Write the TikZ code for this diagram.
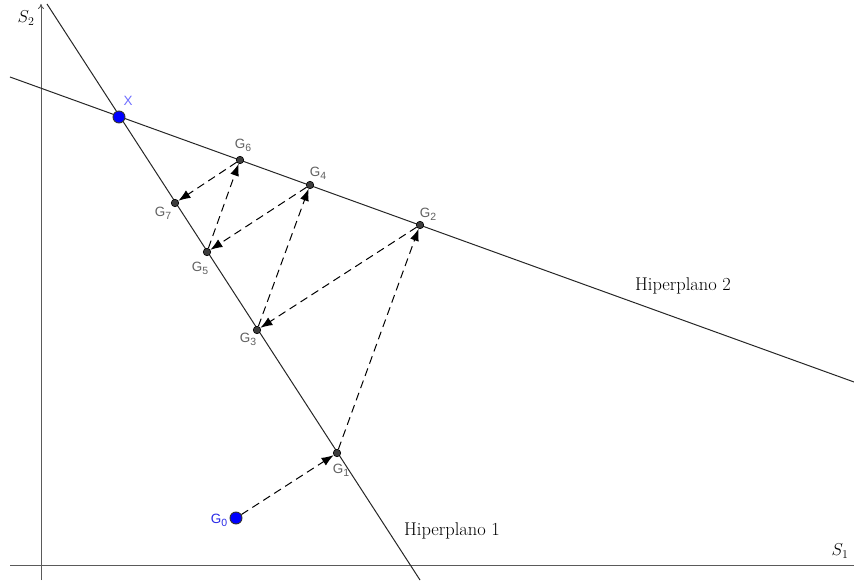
\documentclass[tikz,border=0pt]{standalone}
\usepackage{fontspec}
\newfontfamily\lblfont{Liberation Sans}
\usetikzlibrary{arrows.meta}
\definecolor{lblgray}{RGB}{96,96,96}
\definecolor{axgray}{RGB}{90,90,90}
\definecolor{ptfill}{RGB}{60,60,60}
\definecolor{xblue}{RGB}{110,110,255}
\definecolor{gblue}{RGB}{40,40,230}
\newcommand{\gsub}[1]{G\raisebox{-0.45ex}{\fontsize{10.5}{10.5}\selectfont #1}}
\begin{document}
\begin{tikzpicture}[x=1bp,y=-1bp,
  pt/.style={circle,draw=black,fill=ptfill,inner sep=0pt,minimum size=7.5bp,line width=0.6bp},
  bpt/.style={circle,draw=black!80,fill=blue,inner sep=0pt,minimum size=12bp,line width=0.9bp},
  lbl/.style={font=\lblfont\fontsize{13.5}{13.5}\selectfont,text=lblgray,inner sep=1bp},
  hyp/.style={line width=1bp,draw=black!85},
  axis/.style={line width=1bp,draw=axgray},
  itr/.style={dash pattern=on 8bp off 5bp,line width=1bp,-{Latex[length=12bp,width=9bp]}},
  big/.style={font=\fontsize{18.5}{18.5}\selectfont,inner sep=0pt}
]
\useasboundingbox (0,0) rectangle (854,582);
% axes
\coordinate (ya) at (41,580);
\coordinate (yb) at (41,4);
\coordinate (xa) at (10,565);
\coordinate (xb) at (854,565);
\draw[axis,-{To[length=5bp,width=6bp]}] (ya) -- (yb);
\draw[axis] (xa) -- (xb);
\node[big] (s2) at (26,18) {$S_2$};
\node[big] (s1) at (840,551) {$S_1$};
% hyperplanes
\coordinate (h1a) at (47,4);
\coordinate (h1b) at (420,580);
\coordinate (h2a) at (10,77);
\coordinate (h2b) at (854,382);
\draw[hyp] (h1a) -- (h1b);
\draw[hyp] (h2a) -- (h2b);
\node[big] (hp2) at (683,286) {Hiperplano 2};
\node[big] (hp1) at (452,531) {Hiperplano 1};
% points
\node[bpt] (X) at (119,117) {};
\node[bpt] (G0) at (236,518) {};
\node[pt] (G1) at (337,453) {};
\node[pt] (G2) at (420,225) {};
\node[pt] (G3) at (257,330) {};
\node[pt] (G4) at (310,185) {};
\node[pt] (G5) at (207,252) {};
\node[pt] (G6) at (240,160) {};
\node[pt] (G7) at (175,203) {};
% labels
\node[lbl,text=xblue] (lX) at (128,101) {X};
\node[lbl,text=gblue] (l0) at (219,520) {\gsub{0}};
\node[lbl] (l1) at (341,470) {\gsub{1}};
\node[lbl] (l2) at (428,214) {\gsub{2}};
\node[lbl] (l3) at (248,339) {\gsub{3}};
\node[lbl] (l4) at (318,173) {\gsub{4}};
\node[lbl] (l5) at (200,268) {\gsub{5}};
\node[lbl] (l6) at (243,145) {\gsub{6}};
\node[lbl] (l7) at (163,213) {\gsub{7}};
% iterations
\draw[itr] (G0) -- (G1);
\draw[itr] (G1) -- (G2);
\draw[itr] (G2) -- (G3);
\draw[itr] (G3) -- (G4);
\draw[itr] (G4) -- (G5);
\draw[itr] (G5) -- (G6);
\draw[itr] (G6) -- (G7);
\end{tikzpicture}
\end{document}
